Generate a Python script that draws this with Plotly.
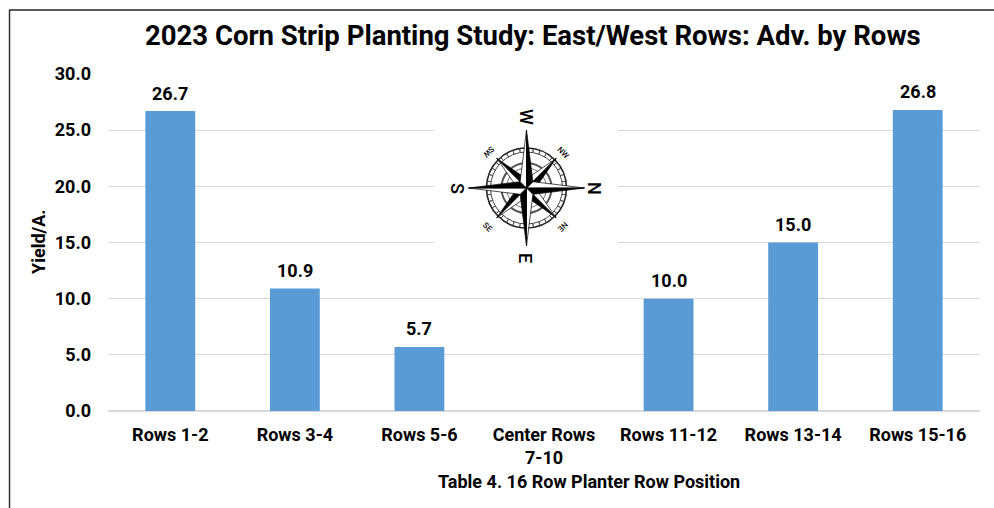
import math
import plotly.graph_objects as go

categories = ["Rows 1-2", "Rows 3-4", "Rows 5-6", "Center Rows<br>7-10", "Rows 11-12", "Rows 13-14", "Rows 15-16"]
yield_adv = [26.7, 10.9, 5.7, None, 10.0, 15.0, 26.8]
y_ticks = [0, 5, 10, 15, 20, 25, 30]
title_text = "2023 Corn Strip Planting Study: East/West Rows: Adv. by Rows"
x_title = "Table 4. 16 Row Planter Row Position"
y_title = "Yield/A."

W, H = 994, 508
L, R, T, B = 108, 14, 74, 97
PW, PH = W - L - R, H - T - B
FONT = "Roboto"


def px(x, y):
    return (x - L) / PW, 1 - (y - T) / PH


def path(points):
    return "M" + " L".join(f"{a:.5f},{b:.5f}" for a, b in (px(*p) for p in points)) + " Z"


def label(x, y, text, size, angle=0, weight=700):
    a, b = px(x, y)
    return dict(x=a, y=b, xref="paper", yref="paper", text=text, showarrow=False, textangle=angle,
                xanchor="center", yanchor="middle",
                font=dict(family=FONT, size=size, color="#000000", weight=weight))


fig = go.Figure(go.Bar(
    x=categories, y=yield_adv, width=0.4, marker=dict(color="#5b9bd5", line_width=0),
))

shapes = []
# chart frame: top and left edges only
shapes.append(dict(type="line", xref="paper", yref="paper", x0=px(9, 0)[0], x1=px(994, 0)[0],
                   y0=px(0, 10)[1], y1=px(0, 10)[1], line=dict(color="#222222", width=1.5)))
shapes.append(dict(type="line", xref="paper", yref="paper", x0=px(9.5, 0)[0], x1=px(9.5, 0)[0],
                   y0=px(0, 10)[1], y1=px(0, 508)[1], line=dict(color="#333333", width=1.5)))
# white backing of the compass picture
x0, y0 = px(434, 98)
x1, y1 = px(618, 272)
shapes.append(dict(type="rect", xref="paper", yref="paper", x0=x0, y0=y0, x1=x1, y1=y1,
                   fillcolor="#ffffff", line_width=0))

# compass rose, rotated a quarter turn as in the source picture
cx, cy = 526.5, 188
for r, w, c in [(40, 1.6, "#222222"), (36, 1.0, "#444444"), (25, 2.0, "#555555"), (20, 1.0, "#777777")]:
    a0, b0 = px(cx - r, cy - r)
    a1, b1 = px(cx + r, cy + r)
    shapes.append(dict(type="circle", xref="paper", yref="paper", x0=a0, y0=b0, x1=a1, y1=b1,
                       line=dict(color=c, width=w), fillcolor="rgba(0,0,0,0)"))
for k in range(36):
    t = math.radians(k * 10)
    shapes.append(dict(type="path", path=path([(cx + 36 * math.cos(t), cy + 36 * math.sin(t)),
                                               (cx + 40 * math.cos(t), cy + 40 * math.sin(t))]),
                       xref="paper", yref="paper", line=dict(color="#444444", width=0.8)))


def star(angle_deg, r_tip, r_base, spread):
    t = math.radians(angle_deg)
    tip = (cx + r_tip * math.cos(t), cy + r_tip * math.sin(t))
    left = (cx + r_base * math.cos(t - spread), cy + r_base * math.sin(t - spread))
    right = (cx + r_base * math.cos(t + spread), cy + r_base * math.sin(t + spread))
    shapes.append(dict(type="path", path=path([(cx, cy), tip, left]), xref="paper", yref="paper",
                       fillcolor="#ffffff", line=dict(color="#000000", width=0.7)))
    shapes.append(dict(type="path", path=path([(cx, cy), tip, right]), xref="paper", yref="paper",
                       fillcolor="#000000", line=dict(color="#000000", width=0.7)))


for d in (45, 135, 225, 315):
    star(d, 42, 9, math.radians(45))
for d in (0, 90, 180, 270):
    star(d, 58, 9, math.radians(45))

annotations = [
    label(589, 481, x_title, 18),
    label(526, 117, "W", 18, 90, 500),
    label(526, 258, "E", 18, 90, 500),
    label(458, 188, "S", 18, 90, 500),
    label(595, 188, "N", 18, 90, 500),
    label(489, 152, "SW", 8, 135, 500),
    label(563, 152, "NW", 8, 45, 500),
    label(563, 227, "NE", 8, 135, 500),
    label(488, 227, "SE", 8, 45, 500),
    label(38, 242, y_title, 18, -90),
    label(533, 35, title_text, 27.5),
]
for c, v in zip(categories, yield_adv):
    if v is not None:
        annotations.append(dict(x=c, y=v, xref="x", yref="y", text=f"{v:.1f}", showarrow=False,
                                yshift=18, xanchor="center", yanchor="middle",
                                font=dict(family=FONT, size=18, color="#000000", weight=700)))

fig.update_layout(
    width=W, height=H, margin=dict(l=L, r=R, t=T, b=B, autoexpand=False),
    paper_bgcolor="#ffffff", plot_bgcolor="#ffffff", showlegend=False,
    bargap=0.6, shapes=shapes, annotations=annotations,
    font=dict(family=FONT, color="#000000"),
    xaxis=dict(type="category", categoryorder="array", categoryarray=categories, showgrid=False,
               showline=False, ticks="", ticklabelstandoff=11,
               tickfont=dict(family=FONT, size=18, color="#000000", weight=700)),
    yaxis=dict(range=[0, 30], tickvals=y_ticks, tickformat=".1f", showgrid=True, gridcolor="#d9d9d9",
               gridwidth=1, zeroline=True, zerolinecolor="#d9d9d9", zerolinewidth=1.5, showline=False,
               ticks="", ticklabelstandoff=16,
               tickfont=dict(family=FONT, size=18, color="#000000", weight=700)),
)
fig.write_html("out.html", config={"displayModeBar": False},
               post_script="document.body.style.margin='0';document.body.style.overflow='hidden';")
